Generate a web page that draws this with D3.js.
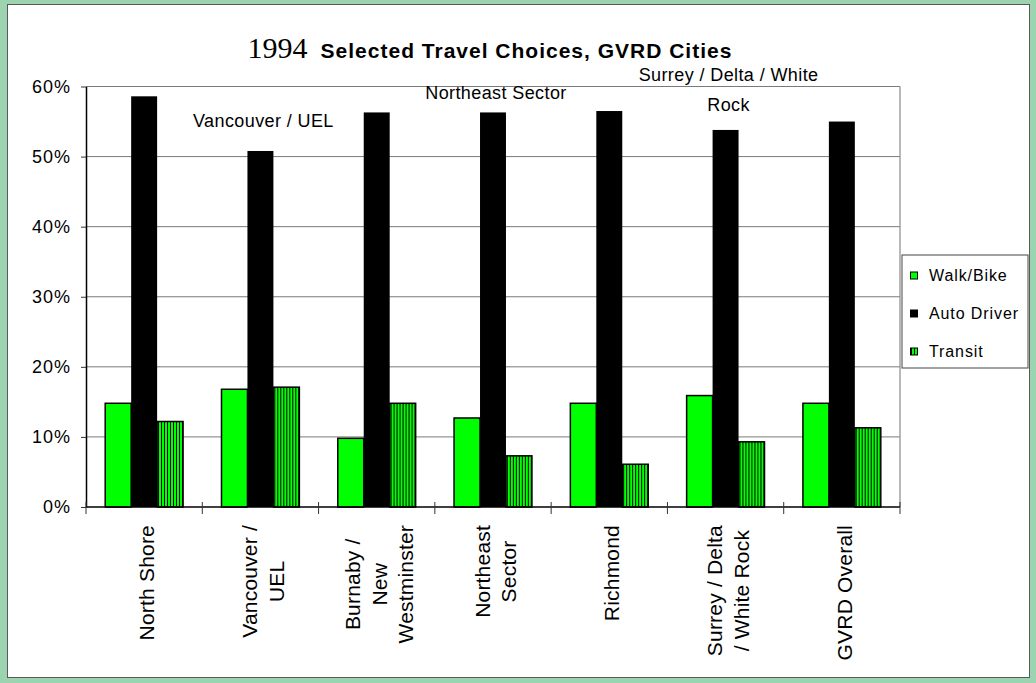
<!DOCTYPE html>
<html>
<head>
<meta charset="utf-8">
<script src="https://cdn.jsdelivr.net/npm/d3@7"></script>
<style>
  body { margin: 0; background: #fff; }
  text { font-family: "Liberation Sans", Arial, sans-serif; fill: #000; }
</style>
</head>
<body>
<svg width="1036" height="683"></svg>
<script>
// data
var categories = ["North Shore", "Vancouver / UEL", "Burnaby / New Westminster", "Northeast Sector",
                  "Richmond", "Surrey / Delta / White Rock", "GVRD Overall"];
var categoryLines = [["North Shore"], ["Vancouver /", "UEL"], ["Burnaby /", "New", "Westminster"],
                     ["Northeast", "Sector"], ["Richmond"], ["Surrey / Delta", "/ White Rock"], ["GVRD Overall"]];
var series = ["Walk/Bike", "Auto Driver", "Transit"];
var walkBike   = [0.148, 0.168, 0.098, 0.127, 0.148, 0.159, 0.148];
var autoDriver = [0.586, 0.508, 0.563, 0.563, 0.565, 0.538, 0.550];
var transit    = [0.122, 0.171, 0.148, 0.073, 0.061, 0.093, 0.113];
var yTicks = [0, 0.1, 0.2, 0.3, 0.4, 0.5, 0.6];
var titleYear = "1994", titleMain = "Selected Travel Choices, GVRD Cities";
// stray labels floating over the plot
var floatLabels = [
  { cat: "Vancouver / UEL", lines: ["Vancouver / UEL"], y: 127 },
  { cat: "Northeast Sector", lines: ["Northeast Sector"], y: 99 },
  { cat: "Surrey / Delta / White Rock", lines: ["Surrey / Delta / White", "Rock"], y: 81 }
];

var values = { "Walk/Bike": walkBike, "Auto Driver": autoDriver, "Transit": transit };
var rows = categories.map(function(c, i) {
  return { cat: c, vals: series.map(function(s) { return { key: s, value: values[s][i] }; }) };
});

var svg = d3.select("svg"),
    width = +svg.attr("width"),
    height = +svg.attr("height");

var plotLeft = 86, plotRight = 900, plotTop = 86.5, plotBottom = 507;

// frame
svg.append("rect").attr("width", width).attr("height", height).attr("fill", "#9cd4b0");
svg.append("rect").attr("x", 7.5).attr("y", 4.5).attr("width", 1022).attr("height", 673)
    .attr("fill", "#fff").attr("stroke", "#5a5a5a").attr("stroke-width", 1);

var defs = svg.append("defs");
var pat = defs.append("pattern").attr("id", "stripes").attr("patternUnits", "userSpaceOnUse")
    .attr("width", 3).attr("height", 10);
pat.append("rect").attr("width", 3).attr("height", 10).attr("fill", "#00ff00");
pat.append("rect").attr("width", 1).attr("height", 10).attr("fill", "#000");

var fills = { "Walk/Bike": "#00ff00", "Auto Driver": "#000", "Transit": "url(#stripes)" };

var x0 = d3.scaleBand().domain(categories).range([plotLeft, plotRight]).paddingInner(0).paddingOuter(0);
var x1 = d3.scaleBand().domain(series).range([0, x0.bandwidth()]).paddingInner(0).paddingOuter(0.74);
var y = d3.scaleLinear().domain([0, 0.6]).range([plotBottom, plotTop]);

// gridlines + plot border
svg.append("g").selectAll("line")
  .data(yTicks.slice(1))
  .enter().append("line")
    .attr("x1", plotLeft).attr("x2", plotRight)
    .attr("y1", function(d) { return y(d); }).attr("y2", function(d) { return y(d); })
    .attr("stroke", "#7a7a7a").attr("stroke-width", 1);
svg.append("line").attr("x1", plotRight).attr("x2", plotRight).attr("y1", plotTop).attr("y2", plotBottom)
    .attr("stroke", "#8a8a8a").attr("stroke-width", 1.2);

// bars
var group = svg.append("g").selectAll("g")
  .data(rows)
  .enter().append("g")
    .attr("transform", function(d) { return "translate(" + x0(d.cat) + ",0)"; });

group.selectAll("rect")
  .data(function(d) { return d.vals; })
  .enter().append("rect")
    .attr("x", function(d) { return x1(d.key); })
    .attr("width", x1.bandwidth())
    .attr("y", function(d) { return y(d.value); })
    .attr("height", function(d) { return y(0) - y(d.value); })
    .attr("fill", function(d) { return fills[d.key]; })
    .attr("stroke", "#000")
    .attr("stroke-width", function(d) { return d.key == "Auto Driver" ? 0 : 1.5; });

// y axis
var yAxis = svg.append("g").attr("transform", "translate(" + plotLeft + ",0)")
    .call(d3.axisLeft(y).tickValues(yTicks).tickFormat(d3.format(".0%"))
          .tickSize(5).tickSizeOuter(0).tickPadding(10));
yAxis.select(".domain").attr("stroke", "#000").attr("stroke-width", 1.5);
yAxis.selectAll(".tick line").attr("stroke", "#333");
yAxis.selectAll("text").style("font-size", "18px").style("letter-spacing", "1px")
    .style("font-family", "'Liberation Sans', Arial, sans-serif");

// x axis line and ticks at band edges
svg.append("line").attr("x1", plotLeft).attr("x2", plotRight).attr("y1", plotBottom).attr("y2", plotBottom)
    .attr("stroke", "#000").attr("stroke-width", 1.5);
svg.append("g").selectAll("line")
  .data(categories.map(function(c) { return x0(c); }).concat([plotRight]))
  .enter().append("line")
    .attr("x1", function(d) { return d; }).attr("x2", function(d) { return d; })
    .attr("y1", plotBottom - 5).attr("y2", plotBottom + 7)
    .attr("stroke", "#333").attr("stroke-width", 1);

// rotated category labels, longest line ends just under the axis
var lineH = 26.5;
var labels = svg.append("g").selectAll("g")
  .data(categories.map(function(c, i) { return { cat: c, lines: categoryLines[i] }; }))
  .enter().append("g");

labels.each(function(d) {
  var g = d3.select(this);
  var n = d.lines.length;
  var texts = g.selectAll("text")
    .data(d.lines)
    .enter().append("text")
      .attr("text-anchor", "middle")
      .attr("y", function(t, i) { return 10 + (i - (n - 1) / 2) * lineH; })
      .style("font-size", "21px")
      .style("letter-spacing", "0.2px")
      .text(function(t) { return t; });
  var maxLen = 0;
  texts.each(function() { maxLen = Math.max(maxLen, this.getComputedTextLength()); });
  g.attr("transform", "translate(" + (x0(d.cat) + x0.bandwidth() / 2) + "," + (525 + maxLen / 2) + ") rotate(-90)");
});

// floating labels
floatLabels.forEach(function(f) {
  svg.append("g").selectAll("text")
    .data(f.lines)
    .enter().append("text")
      .attr("text-anchor", "middle")
      .attr("x", x0(f.cat) + x0.bandwidth() / 2 + 3)
      .attr("y", function(t, i) { return f.y + i * 30; })
      .style("font-size", "18px")
      .style("letter-spacing", "0.4px")
      .text(function(t) { return t; });
});

// title
var title = svg.append("text").attr("x", 490).attr("y", 57.5).attr("text-anchor", "middle");
title.append("tspan").style("font-family", "'Liberation Serif', 'Times New Roman', serif")
    .style("font-size", "30px").text(titleYear);
title.append("tspan").attr("dx", 13).style("font-weight", "bold").style("font-size", "21px")
    .style("letter-spacing", "1px").text(titleMain);

// legend
var legend = svg.append("g").attr("transform", "translate(902,255)");
legend.append("rect").attr("width", 126).attr("height", 113)
    .attr("fill", "#fff").attr("stroke", "#444").attr("stroke-width", 1);
var item = legend.selectAll(".item")
  .data(series)
  .enter().append("g")
    .attr("class", "item")
    .attr("transform", function(d, i) { return "translate(0," + (17 + i * 38) + ")"; });
item.append("rect").attr("x", 8.5).attr("width", 7).attr("height", 7)
    .attr("fill", function(d) { return fills[d]; })
    .attr("stroke", "#000").attr("stroke-width", 1);
item.append("text").attr("x", 27).attr("y", 3.5).attr("dy", "0.35em")
    .style("font-size", "16px").style("letter-spacing", "0.9px")
    .text(function(d) { return d; });
</script>
</body>
</html>
